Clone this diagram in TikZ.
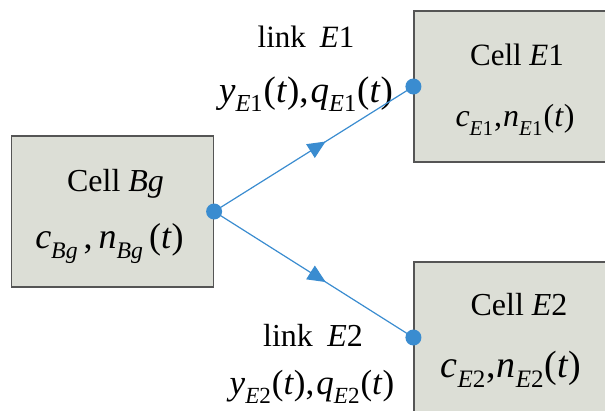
\documentclass[tikz,border=0pt]{standalone}
\usepackage{fontspec}
\usepackage{graphicx}
\setmainfont{Liberation Serif}
\usetikzlibrary{positioning,arrows.meta,decorations.markings}
\definecolor{cellfill}{RGB}{220,222,214}
\definecolor{cellline}{RGB}{85,85,85}
\definecolor{linkblue}{RGB}{58,140,208}
\newcommand{\cellsub}[1]{\raisebox{-0.27em}{\scalebox{0.66}{#1}}}
\newcommand{\fsz}[1]{\fontsize{#1}{#1}\selectfont}

\begin{document}
\begin{tikzpicture}[
    x=1pt, y=-1pt,
    cellbox/.style={draw=cellline, line width=1.2pt, fill=cellfill, rectangle, minimum width=202pt, minimum height=151pt, inner sep=0pt},
    celltext/.style={anchor=base, inner sep=0pt, font=\fsz{31}},
    linkline/.style={draw=linkblue, line width=1.2pt, postaction={decorate},
      decoration={markings, mark=at position 0.56 with {\arrow[linkblue]{Triangle[length=18pt,width=16pt]}}}},
    port/.style={fill=linkblue}
]
  \clip (0,0) rectangle (605,410);
  % Cells
  \node (bg) [cellbox] at (112.5,211.5) {};
  \node (e1) [cellbox] at (515,86.5) {};
  \node (e2) [cellbox] at (515,337.5) {};

  % Cell texts
  \node (bgname) [celltext, font=\fsz{32}] at ([xshift=3pt,yshift=-56pt]bg.north) {Cell \textit{Bg}};
  \node (bgstate) [celltext, font=\fsz{36}] at ([xshift=-3pt,yshift=-113pt]bg.north) {\textit{c}\cellsub{\textit{Bg}}\,,\,\textit{n}\cellsub{\textit{Bg}}\,(\textit{t})};
  \node (e1name) [celltext] at ([xshift=2pt,yshift=-55pt]e1.north) {Cell \textit{E}1};
  \node (e1state) [celltext, font=\fsz{32}] at ([yshift=-116pt]e1.north) {\textit{c}\cellsub{\textit{E}1}\kern1pt,\kern1pt\textit{n}\cellsub{\textit{E}1}\kern1pt(\textit{t})};
  \node (e2name) [celltext, font=\fsz{32}] at ([xshift=4pt,yshift=-54pt]e2.north) {Cell \textit{E}2};
  \node (e2state) [celltext, font=\fsz{38}] at ([xshift=-4pt,yshift=-116pt]e2.north) {\textit{c}\cellsub{\textit{E}2}\kern1pt,\kern1pt\textit{n}\cellsub{\textit{E}2}\kern1pt(\textit{t})};

  % Link labels
  \node (l1name) [celltext] at (306,47) {link\hspace{0.45em}\textit{E}1};
  \node (l1flow) [celltext, font=\fsz{37}] at (306,102) {\textit{y}\cellsub{\textit{E}1}\kern1pt(\textit{t}),\kern2pt\textit{q}\cellsub{\textit{E}1}\kern1pt(\textit{t})};
  \node (l2name) [celltext, font=\fsz{32}] at (313,346) {link\hspace{0.45em}\textit{E}2};
  \node (l2flow) [celltext, font=\fsz{35}] at (312,394) {\textit{y}\cellsub{\textit{E}2}\kern1pt(\textit{t}),\kern2pt\textit{q}\cellsub{\textit{E}2}\kern1pt(\textit{t})};

  % Links
  \draw [linkline] (bg.east) -- (e1.west);
  \draw [linkline] (bg.east) -- (e2.west);
  \fill [port] (bg.east) circle (8pt);
  \fill [port] (e1.west) circle (8pt);
  \fill [port] (e2.west) circle (8pt);
\end{tikzpicture}
\end{document}
